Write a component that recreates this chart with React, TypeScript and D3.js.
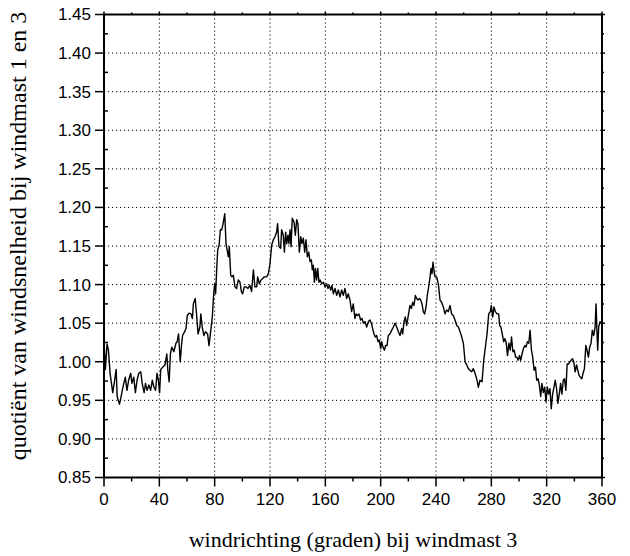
import React from 'react';
import * as d3 from 'd3';

// [wind direction (deg), quotient]
const samples: [number, number][] = [
  [0.2, 1.02], [1, 0.99], [2.2, 1.023], [3.2, 1.015], [4.4, 0.985], [6.3, 0.96], [7.6, 0.975], [8.8, 0.99],
  [9.5, 0.955], [11.2, 0.945], [12.4, 0.955], [13.7, 0.967], [15.4, 0.98], [16.6, 0.963], [17.8, 0.976],
  [19.3, 0.985], [20.2, 0.972], [21.5, 0.98], [22.7, 0.96], [23.9, 0.976], [25.1, 0.985], [26.6, 0.987],
  [27.6, 0.972], [29, 0.96], [30, 0.972], [31.2, 0.963], [32.4, 0.97], [33.7, 0.963], [34.9, 0.976],
  [36.1, 0.967], [37.3, 0.963], [38.3, 0.985], [39.3, 0.976], [40.2, 0.96], [41, 0.99], [42.4, 0.993],
  [44.1, 0.996], [45.4, 1.01], [46.1, 0.99], [47.1, 0.974], [48, 1.01], [49, 1.019], [50.5, 1.013],
  [52, 1.024], [52.9, 1.026], [53.9, 1.036], [55.1, 1.0], [55.9, 1.019], [56.8, 1.034], [58.3, 1.039],
  [59.3, 1.043], [60.2, 1.06], [61.5, 1.063], [62.9, 1.062], [63.9, 1.056], [64.6, 1.075], [65.9, 1.082],
  [66.8, 1.064], [68, 1.036], [69.3, 1.045], [70, 1.062], [71, 1.045], [72.2, 1.034], [73.4, 1.039],
  [74.9, 1.036], [75.9, 1.021], [77.1, 1.039], [78.3, 1.058], [79.3, 1.088], [80, 1.101], [80.7, 1.088],
  [81.5, 1.121], [82.2, 1.145], [83.2, 1.151], [84.1, 1.171], [85.1, 1.171], [86.1, 1.179], [87.3, 1.192],
  [88.2, 1.153], [89.9, 1.136], [90.6, 1.149], [91.6, 1.112], [92.5, 1.11], [93.5, 1.112], [94.7, 1.097],
  [95.9, 1.095], [97.1, 1.106], [98.3, 1.103], [99.3, 1.091], [100.2, 1.088], [101.4, 1.097], [102.6, 1.097],
  [104.1, 1.095], [105.5, 1.099], [106.7, 1.091], [108, 1.119], [109.1, 1.097], [110.4, 1.097], [111.1, 1.11],
  [112.3, 1.101], [113.5, 1.106], [114.7, 1.108], [115.9, 1.11], [117.6, 1.11], [118.8, 1.114], [120, 1.127],
  [121.2, 1.151], [122.4, 1.158], [123.6, 1.162], [124.8, 1.168], [125.5, 1.179], [126.5, 1.149],
  [127.7, 1.147], [128.4, 1.171], [129.6, 1.164], [130.4, 1.142], [131.3, 1.168], [132.1, 1.153],
  [133, 1.164], [133.7, 1.153], [134.5, 1.171], [135.2, 1.149], [136.1, 1.186], [137.4, 1.181],
  [138.3, 1.164], [139.3, 1.184], [140.2, 1.179], [141.2, 1.142], [142.2, 1.162], [143.1, 1.153],
  [144.1, 1.16], [145.1, 1.142], [146, 1.158], [147, 1.136], [148, 1.142], [148.9, 1.13], [149.9, 1.132],
  [150.6, 1.119], [151.3, 1.125], [152.1, 1.103], [152.8, 1.121], [153.7, 1.106], [154.5, 1.121],
  [155.4, 1.103], [156.2, 1.106], [157.4, 1.101], [158.6, 1.103], [159.8, 1.097], [161, 1.101],
  [161.9, 1.095], [162.9, 1.099], [163.9, 1.093], [164.8, 1.099], [165.8, 1.088], [167, 1.095],
  [168.2, 1.086], [169.4, 1.093], [170.6, 1.084], [171.8, 1.093], [173, 1.086], [174.2, 1.095],
  [175.4, 1.082], [176.6, 1.088],
  [177.8, 1.08], [179, 1.065], [180.2, 1.075], [181.4, 1.056], [182.2, 1.062], [183.1, 1.06], [184.3, 1.062],
  [185.5, 1.054], [186.5, 1.056], [187.5, 1.05], [188.7, 1.052], [189.9, 1.045], [191.1, 1.052],
  [192.3, 1.054], [193.3, 1.05], [194.2, 1.043], [195.2, 1.036], [196.1, 1.032], [197.1, 1.034],
  [198.1, 1.026], [199, 1.028], [200, 1.017], [200.7, 1.026], [201.7, 1.019], [202.7, 1.015], [203.6, 1.021],
  [204.6, 1.021], [205.5, 1.034], [206.7, 1.036], [208, 1.041], [209.2, 1.045], [210.4, 1.05], [211.6, 1.045],
  [212.8, 1.039], [214, 1.034], [215.2, 1.043], [215.9, 1.036], [216.9, 1.052], [217.8, 1.058],
  [218.8, 1.047], [220, 1.06], [221.2, 1.073], [222.2, 1.069], [223.1, 1.077], [224.1, 1.073],
  [225.1, 1.086], [226, 1.082], [227, 1.08], [228, 1.082], [228.9, 1.08], [229.9, 1.075], [230.8, 1.065],
  [231.8, 1.062], [232.8, 1.071], [233.7, 1.086], [234.7, 1.097], [235.7, 1.11], [236.4, 1.121],
  [237.1, 1.114], [237.8, 1.129], [238.6, 1.117], [239.3, 1.11], [240.5, 1.11], [241.7, 1.101],
  [242.9, 1.08], [244.1, 1.077], [245.3, 1.071], [246.5, 1.062], [247.7, 1.067], [248.9, 1.065],
  [250.1, 1.073], [251.3, 1.062], [252.5, 1.06], [253.7, 1.054], [255, 1.047], [256.2, 1.045],
  [257.4, 1.039], [258.6, 1.032], [259.8, 1.024], [261, 1.0], [262.2, 0.996], [263.4, 0.991],
  [264.6, 0.989], [265.8, 0.987], [267, 0.991], [268.2, 0.985], [269.4, 0.978], [270.6, 0.967],
  [271.8, 0.976],
  [273.3, 0.974], [274.5, 1.002], [275.7, 1.019], [276.9, 1.036], [278.1, 1.062], [279.3, 1.065],
  [280, 1.073], [281, 1.058], [281.9, 1.071], [282.9, 1.065], [284.1, 1.062], [285.3, 1.062], [286, 1.047],
  [286.9, 1.045], [287.9, 1.036], [288.9, 1.026], [289.8, 1.03], [290.8, 1.024], [291.7, 1.008],
  [292.7, 1.024], [293.7, 1.015], [294.6, 1.032], [295.6, 1.013], [296.5, 1.015], [297.5, 1.006],
  [298.4, 1.006], [299.4, 1.002], [300.4, 1.008], [301.3, 1.002], [302.3, 1.011], [303.2, 1.017],
  [304.2, 1.021], [305.1, 1.019], [306.1, 1.026], [307.1, 1.024], [308, 1.041], [309, 1.015], [309.9, 1.006],
  [310.9, 0.989], [311.9, 0.993], [312.8, 0.976], [313.8, 0.978], [314.7, 0.97], [315.7, 0.955],
  [316.6, 0.972], [317.6, 0.96], [318.6, 0.967], [319.5, 0.948], [320.5, 0.967], [321.4, 0.958],
  [322.4, 0.965], [323.3, 0.939], [324.3, 0.958], [325.3, 0.967], [326.2, 0.976], [327.2, 0.965],
  [328.1, 0.946], [329.1, 0.958], [330.1, 0.972], [331, 0.958], [332, 0.976], [332.9, 0.978],
  [333.9, 0.963], [334.8, 0.997], [335.8, 0.997], [336.8, 1.0], [337.7, 1.002], [338.7, 1.004],
  [339.6, 1.0], [340.6, 0.987], [341.6, 0.996], [342.5, 0.989], [343.5, 0.982], [344.4, 0.98],
  [345.4, 0.978], [346.3, 0.985], [347.3, 0.991], [348.3, 1.021], [349.2, 1.015], [350.2, 1.006],
  [351.1, 1.019], [352.1, 1.024], [353, 1.041], [354, 1.034], [355, 1.045], [355.7, 1.075], [356.4, 1.036],
  [356.9, 1.015], [357.6, 1.045], [358.6, 1.052], [359.3, 1.05],
];

const xTicks = [0, 40, 80, 120, 160, 200, 240, 280, 320, 360];
const xMinor = [20, 60, 100, 140, 180, 220, 260, 300, 340];
const yTicks = [0.85, 0.9, 0.95, 1.0, 1.05, 1.1, 1.15, 1.2, 1.25, 1.3, 1.35, 1.4, 1.45];
const yMinor = [0.875, 0.925, 0.975, 1.025, 1.075, 1.125, 1.175, 1.225, 1.275, 1.325, 1.375, 1.425];

const W = 630;
const H = 556;
const left = 104, right = 602, top = 14.5, bottom = 477.5;
const sans = "'Liberation Sans', Arial, sans-serif";
const serif = "'Liberation Serif', 'Times New Roman', serif";

export default function App() {
  const x = d3.scaleLinear().domain([0, 360]).range([left, right]);
  const y = d3.scaleLinear().domain([0.85, 1.45]).range([bottom, top]);
  const line = d3.line<[number, number]>().x(d => x(d[0])).y(d => y(d[1]));

  return (
    <svg width={W} height={H} style={{ position: 'absolute', left: 0, top: 0, background: '#fff' }}>
      {/* grid */}
      <g stroke="#000" strokeWidth={1} strokeDasharray="1.2 2.8">
        {xTicks.slice(1, -1).map(t => (
          <line key={'gx' + t} x1={x(t)} x2={x(t)} y1={top} y2={bottom} />
        ))}
        {yTicks.slice(1, -1).map(t => (
          <line key={'gy' + t} x1={left} x2={right} y1={y(t)} y2={y(t)} />
        ))}
      </g>

      <path d={line(samples) ?? ''} fill="none" stroke="#000" strokeWidth={1.4} strokeLinejoin="round" />

      {/* ticks */}
      <g stroke="#000" strokeWidth={1.5}>
        {xTicks.map(t => (
          <g key={'xt' + t}>
            <line x1={x(t)} x2={x(t)} y1={bottom} y2={bottom + 9} />
            <line x1={x(t)} x2={x(t)} y1={top} y2={top - 3} />
          </g>
        ))}
        {xMinor.map(t => (
          <g key={'xm' + t}>
            <line x1={x(t)} x2={x(t)} y1={bottom} y2={bottom + 4} />
            <line x1={x(t)} x2={x(t)} y1={top} y2={top - 2} />
          </g>
        ))}
        {yTicks.map(t => (
          <g key={'yt' + t}>
            <line x1={left - 9} x2={left} y1={y(t)} y2={y(t)} />
            <line x1={right} x2={right + 3} y1={y(t)} y2={y(t)} />
          </g>
        ))}
        {yMinor.map(t => (
          <g key={'ym' + t}>
            <line x1={left} x2={left + 4} y1={y(t)} y2={y(t)} />
            <line x1={right} x2={right + 2} y1={y(t)} y2={y(t)} />
          </g>
        ))}
      </g>

      <rect x={left} y={top} width={right - left} height={bottom - top} fill="none" stroke="#000" strokeWidth={2} />

      {/* tick labels */}
      <g fontFamily={sans} fontSize={17} fill="#000">
        {yTicks.map(t => (
          <text key={'yl' + t} x={left - 13} y={y(t)} dy="0.35em" textAnchor="end">
            {d3.format('.2f')(t)}
          </text>
        ))}
        {xTicks.map(t => (
          <text key={'xl' + t} x={x(t)} y={bottom + 27} textAnchor="middle">
            {t}
          </text>
        ))}
      </g>

      {/* axis titles */}
      <text x={(left + right) / 2} y={547} textAnchor="middle" fontFamily={serif} fontSize={22} fill="#000">
        windrichting (graden) bij windmast 3
      </text>
      <text
        transform={`translate(26, 236) rotate(-90)`}
        textAnchor="middle"
        fontFamily={serif}
        fontSize={24}
        fill="#000"
      >
        quotiënt van windsnelheid bij windmast 1 en 3
      </text>
    </svg>
  );
}
